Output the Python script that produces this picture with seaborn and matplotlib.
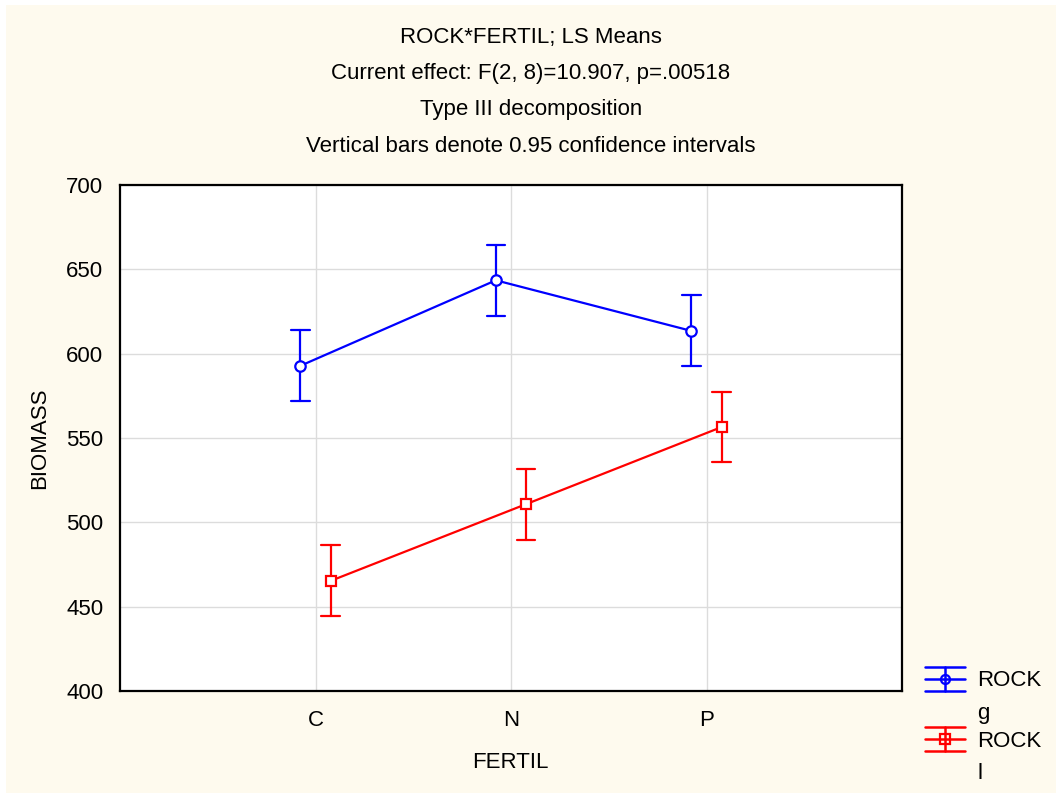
import matplotlib
matplotlib.use("Agg")
import matplotlib.pyplot as plt
from matplotlib.lines import Line2D
from matplotlib.legend_handler import HandlerBase
from matplotlib.patches import Rectangle
import numpy as np
import pandas as pd
import seaborn as sns

# LS means of BIOMASS for each ROCK x FERTIL cell, with 95% CI half-widths
fertil = ["C", "N", "P"]
rock = ["ROCK g", "ROCK l"]
means_g = [592.8, 643.5, 613.5]
means_l = [465.3, 510.8, 556.5]
ci_half = [21.0, 21.0, 21.0]
y_ticks = [400, 450, 500, 550, 600, 650, 700]

# long form: lower bound, mean, upper bound per cell so the
# median/min/max aggregation yields the mean and its interval
rows = []
for r, means in zip(rock, [means_g, means_l]):
    for f, m, h in zip(fertil, means, ci_half):
        for v in (m - h, m, m + h):
            rows.append({"FERTIL": f, "ROCK": r, "BIOMASS": v})
df = pd.DataFrame(rows)

FS = 16
sns.set_theme(style="white", rc={"text.color": "black",
                                 "axes.labelcolor": "black",
                                 "xtick.color": "black",
                                 "ytick.color": "black"})
plt.rcParams["font.family"] = ["Liberation Sans", "DejaVu Sans"]
plt.rcParams["font.size"] = FS

bg = "#fefaee"
fig = plt.figure(figsize=(10.58, 7.93), dpi=100, facecolor="white")
fig.patches.append(Rectangle((6 / 1058, 0), 1050 / 1058, 788 / 793,
                             transform=fig.transFigure, facecolor=bg,
                             edgecolor="none", zorder=-10))
ax = fig.add_axes([120 / 1058, 102 / 793, 782 / 1058, 506 / 793])
ax.set_facecolor("white")

palette = {"ROCK g": "#0000ff", "ROCK l": "#ff0000"}
sns.pointplot(data=df, x="FERTIL", y="BIOMASS", hue="ROCK",
              order=fertil, hue_order=rock, palette=palette,
              estimator="median",
              errorbar=lambda v: (np.min(v), np.max(v)),
              markers=["o", "s"], linestyles=["-", "-"],
              dodge=0.155, capsize=0.095, err_kws={"linewidth": 1.6},
              linewidth=1.6, markersize=7.5, legend=False, ax=ax)

for line in ax.lines:
    if line.get_marker() not in ("None", None, ""):
        line.set_markerfacecolor("white")
        line.set_markeredgewidth(1.6)
        line.set_zorder(5)

ax.set_xlim(-1, 3)
ax.set_ylim(400, 700)
ax.set_yticks(y_ticks)
ax.set_yticklabels([str(t) for t in y_ticks], fontsize=FS)
ax.set_xticks(range(len(fertil)))
ax.set_xticklabels(fertil, fontsize=FS)
ax.grid(True, color="#dcdcdc", linewidth=1.0)
ax.set_axisbelow(True)
for s in ax.spines.values():
    s.set_color("black")
    s.set_linewidth(1.6)
ax.tick_params(axis="y", direction="out", length=3, width=1.2,
               color="black", pad=9, labelcolor="black")
ax.tick_params(axis="x", direction="in", length=4, width=1.2,
               color="black", pad=14, labelcolor="black")
ax.set_xlabel("")
ax.set_ylabel("")

fig.text(40 / 1058, 1 - 438 / 793, "BIOMASS", rotation=90,
         ha="center", va="center", fontsize=FS)
fig.text(510 / 1058, 1 - 762 / 793, "FERTIL", ha="center", va="center",
         fontsize=FS)

titles = ["ROCK*FERTIL; LS Means",
          "Current effect: F(2, 8)=10.907, p=.00518",
          "Type III decomposition",
          "Vertical bars denote 0.95 confidence intervals"]
for t, yp in zip(titles, [37, 73, 109, 146]):
    fig.text(531 / 1058, 1 - yp / 793, t, ha="center", va="center",
             fontsize=FS)

LABEL_LS = 1.72


class ErrorBarKey(HandlerBase):
    """Legend key: mean marker on a line bracketed by two caps,
    lined up with the first line of a two-line label."""

    def __init__(self, marker, **kw):
        super().__init__(**kw)
        self.marker = marker

    def create_artists(self, legend, orig_handle, xdescent, ydescent,
                       width, height, fontsize, trans):
        c = orig_handle.get_color()
        x0, x1 = -xdescent, -xdescent + width
        ym = -ydescent + height / 2 + 0.83 * fontsize
        d = 0.54 * fontsize
        xm = (x0 + x1) / 2
        arts = [
            Line2D([x0, x1], [ym, ym], color=c, lw=1.8),
            Line2D([x0, x1], [ym + d, ym + d], color=c, lw=1.8),
            Line2D([x0, x1], [ym - d, ym - d], color=c, lw=1.8),
            Line2D([xm, xm], [ym - d, ym + d], color=c, lw=1.8),
            Line2D([xm], [ym], marker=self.marker, color=c, mfc="none",
                   mec=c, ms=6.5, mew=1.6, lw=0),
        ]
        for a in arts:
            a.set_transform(trans)
        return arts


h_g = Line2D([], [], color=palette["ROCK g"])
h_l = Line2D([], [], color=palette["ROCK l"])
leg = fig.legend([h_g, h_l], ["ROCK\ng", "ROCK\nl"],
                 handler_map={h_g: ErrorBarKey("o"), h_l: ErrorBarKey("s")},
                 loc="upper left", bbox_to_anchor=(925 / 1058, 1 - 670 / 793),
                 frameon=False, fontsize=FS, handlelength=1.8,
                 handletextpad=0.55, labelspacing=0.32, borderpad=0,
                 borderaxespad=0)
for t in leg.get_texts():
    t.set_linespacing(LABEL_LS)

fig.savefig("out.png", dpi=100, facecolor=fig.get_facecolor())
